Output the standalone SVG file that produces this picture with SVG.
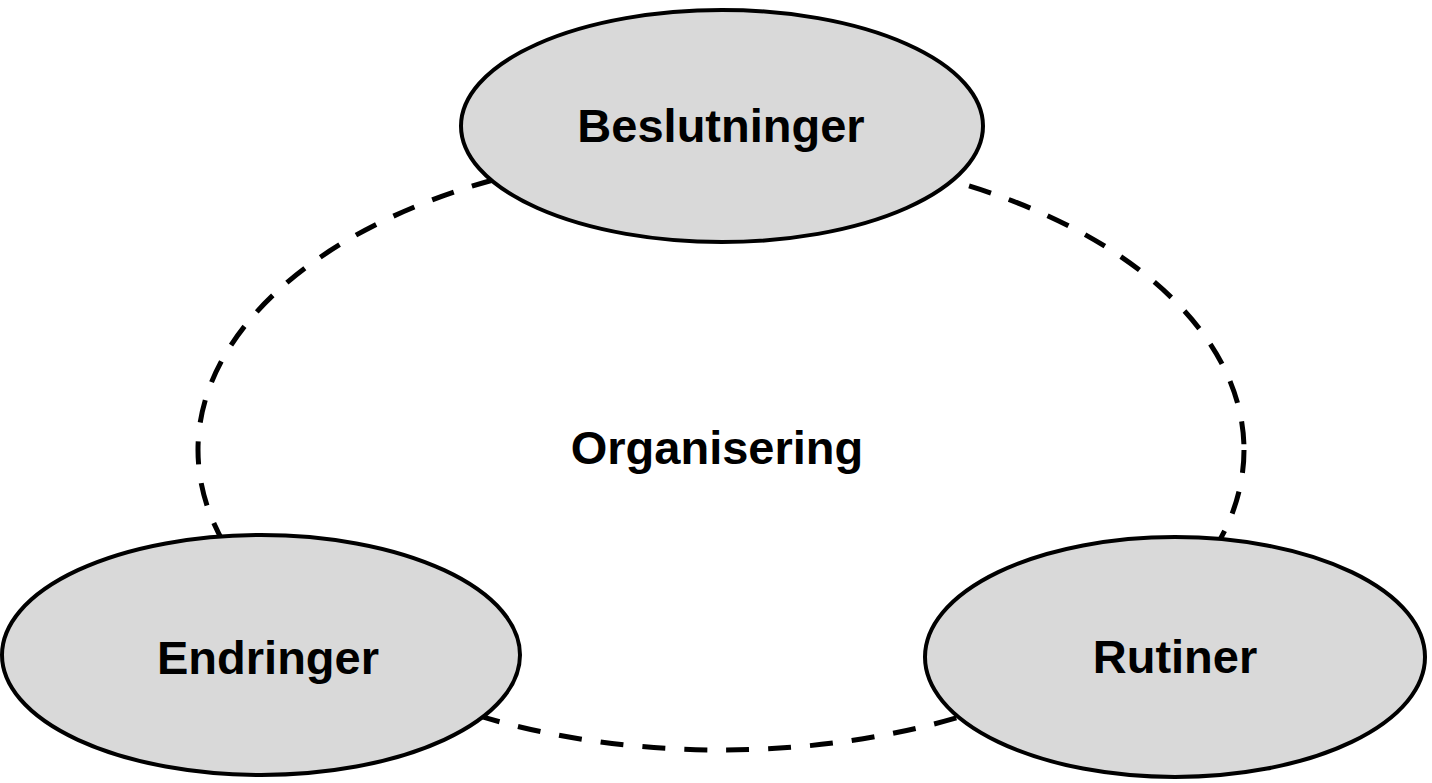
<svg xmlns="http://www.w3.org/2000/svg" width="1432" height="783" viewBox="0 0 1432 783">
<style>
.node{fill:#d9d9d9;stroke:#000;stroke-width:4}
.lbl{font-family:"Liberation Sans",Arial,sans-serif;font-weight:bold;font-size:47px;fill:#000;text-anchor:middle}
.dash{fill:none;stroke:#000;stroke-width:5;stroke-dasharray:23 19}
</style>
<rect width="1432" height="783" fill="#fff"/>
<g id="connectors">
<ellipse class="dash" cx="721" cy="450" rx="523" ry="300"/>
</g>
<text class="lbl" x="717" y="464">Organisering</text>
<g id="beslutninger">
<ellipse class="node" cx="722" cy="126" rx="261" ry="116"/>
<text class="lbl" x="721" y="142">Beslutninger</text>
</g>
<g id="endringer">
<ellipse class="node" cx="261" cy="655" rx="259" ry="120"/>
<text class="lbl" x="268" y="674">Endringer</text>
</g>
<g id="rutiner">
<ellipse class="node" cx="1175" cy="657" rx="250" ry="120"/>
<text class="lbl" x="1175" y="673">Rutiner</text>
</g>
</svg>
